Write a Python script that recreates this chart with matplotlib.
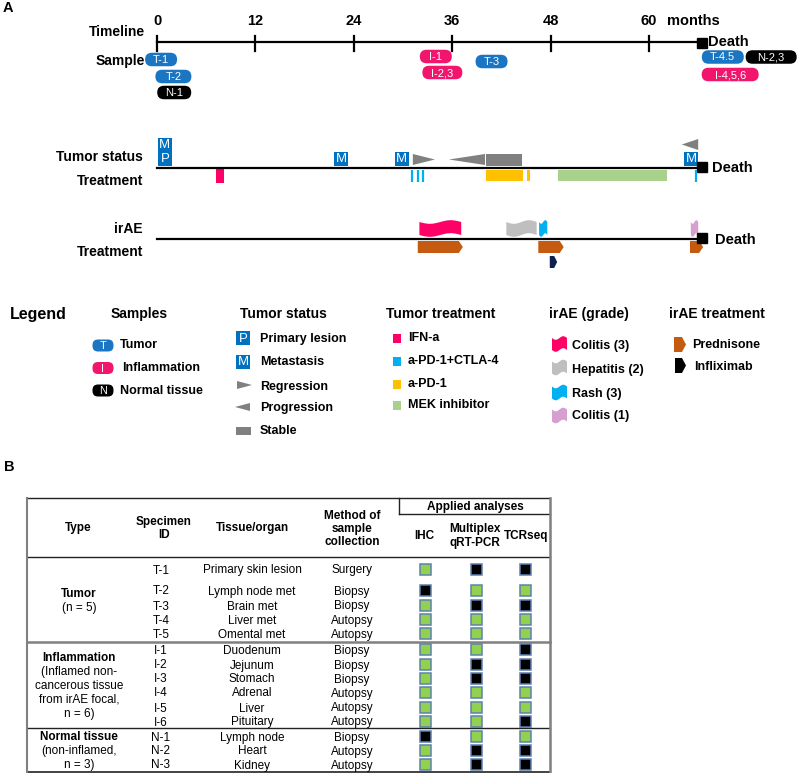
import numpy as np
import matplotlib.pyplot as plt
from matplotlib.patches import FancyBboxPatch, Polygon, Rectangle

plt.rcParams['font.family'] = ['Liberation Sans', 'DejaVu Sans']

# ---------------- data ----------------
tick_months = [0, 12, 24, 36, 48, 60]
death_month = 66.45

sample_labels = ["T-1", "T-2", "N-1", "I-1", "I-2,3", "T-3", "T-4.5", "N-2,3", "I-4,5,6"]
sample_kinds = ["T", "T", "N", "I", "I", "T", "T", "N", "I"]
sample_months = [0.5, 2.0, 2.1, 34.0, 34.8, 40.8, 69.0, 74.9, 69.9]

status_letters = ["P", "M", "M", "M", "M"]
status_months = [0.1, 0.1, 21.6, 29.0, 64.3]
status_level = [0, 1, 0, 0, 0]
regression = [(31.2, 33.9)]
progression = [(35.6, 40.0), (64.0, 66.0)]
progression_level = [0, 1]
stable = [(40.1, 44.5)]

ifn_a = [(7.2, 8.2)]
pd1_ctla4 = [31.1, 31.8, 32.4, 65.7]
pd1 = [(40.1, 44.6), (45.15, 45.5)]
mek = [(48.9, 62.2)]

irae_names = ["Colitis (3)", "Hepatitis (2)", "Rash (3)", "Colitis (1)"]
irae_spans = [(32.0, 37.1), (42.6, 46.3), (46.6, 47.6), (65.1, 66.0)]
prednisone = [(31.8, 37.3), (46.5, 49.6), (65.0, 66.6)]
infliximab = [(47.9, 48.8)]

spec_ids = ["T-1", "T-2", "T-3", "T-4", "T-5", "I-1", "I-2", "I-3", "I-4", "I-5", "I-6",
            "N-1", "N-2", "N-3"]
tissues = ["Primary skin lesion", "Lymph node met", "Brain met", "Liver met", "Omental met",
           "Duodenum", "Jejunum", "Stomach", "Adrenal", "Liver", "Pituitary",
           "Lymph node", "Heart", "Kidney"]
methods = ["Surgery", "Biopsy", "Biopsy", "Autopsy", "Autopsy",
           "Biopsy", "Biopsy", "Biopsy", "Autopsy", "Autopsy", "Autopsy",
           "Biopsy", "Autopsy", "Autopsy"]
ihc = [1, 0, 1, 1, 1, 1, 1, 1, 1, 1, 1, 0, 1, 1]
qpcr = [0, 1, 0, 1, 1, 1, 0, 0, 1, 1, 1, 1, 0, 0]
tcrseq = [0, 1, 0, 1, 1, 0, 0, 0, 1, 1, 0, 1, 0, 0]

# ---------------- style ----------------
BLUE = "#1A75C2"
PINK = "#F2156D"
GRAY = "#808080"
sample_colors = {"T": BLUE, "I": PINK, "N": "black"}
irae_colors = ["#FF0066", "#BFBFBF", "#00B0F0", "#D59FD0"]
ORANGE = "#C55A11"
NAVY = "#0C2350"

PX0, PXM = 157, 8.2  # pixel of month 0, pixels per month

fig = plt.figure(figsize=(7.98, 7.73), dpi=100)
ax = fig.add_axes([0, 0, 1, 1])
ax.set_xlim(0, 798)
ax.set_ylim(773, 0)
ax.axis('off')

tl = fig.add_axes([0, 0, 1, 1])
tl.set_xlim(-PX0 / PXM, (798 - PX0) / PXM)
tl.set_ylim(773, 0)
tl.axis('off')


def flag(a, x0, x1, ytop, ybot, color, amp=1.8):
    t = np.linspace(0, 1, 40)
    xs = x0 + (x1 - x0) * t
    wave = amp * np.sin(2 * np.pi * t)
    top = np.column_stack([xs, ytop + wave])
    bot = np.column_stack([xs[::-1], ybot + wave[::-1]])
    a.add_patch(Polygon(np.vstack([top, bot]), closed=True, fc=color, ec='none'))


def arrow_box(a, x0, x1, ytop, ybot, color, tip):
    ym = (ytop + ybot) / 2
    pts = [(x0, ytop), (x1 - tip, ytop), (x1, ym), (x1 - tip, ybot), (x0, ybot)]
    a.add_patch(Polygon(pts, closed=True, fc=color, ec='none'))


def tri(a, x0, x1, ytop, ybot, right=True, color=GRAY):
    ym = (ytop + ybot) / 2
    if right:
        pts = [(x0, ytop), (x1, ym), (x0, ybot)]
    else:
        pts = [(x1, ytop), (x0, ym), (x1, ybot)]
    a.add_patch(Polygon(pts, closed=True, fc=color, ec='none'))


def letter_box(a, x, yc, letter, w, h=14):
    a.add_patch(Rectangle((x, yc - h / 2), w, h, fc="#0070C0", ec='none'))
    a.text(x + w / 2, yc + 0.5, letter, color='white', fontsize=9.5,
           ha='center', va='center')


# ---------------- panel labels ----------------
ax.text(3, 8, "A", fontsize=10.5, fontweight='bold', va='center')
ax.text(4, 467, "B", fontsize=10.5, fontweight='bold', va='center')

# ---------------- timeline ----------------
lab = dict(fontsize=10, fontweight='bold', va='center', ha='right')
ax.text(145, 32, "Timeline", **lab)
ax.text(145, 61, "Sample", **lab)
ax.text(143, 157, "Tumor status", **lab)
ax.text(143, 181, "Treatment", **lab)
ax.text(143, 229, "irAE", **lab)
ax.text(143, 252, "Treatment", **lab)

tl.plot([0, death_month], [42, 42], color='black', lw=1.6)
for m in tick_months:
    tl.plot([m, m], [36, 51], color='black', lw=1.6)
    tl.text(m, 21, str(m), fontsize=10.5, fontweight='bold', ha='center', va='center')
ax.text(667, 21, "months", fontsize=10.5, fontweight='bold', va='center')
tl.plot(death_month, 42.5, marker='s', ms=6.5, color='black')
tl.text(death_month + 0.75, 42, "Death", fontsize=10.5, fontweight='bold', va='center')

sample_y = [59.5, 76.5, 92.5, 56.5, 72.5, 61.5, 57, 57, 74.5]
sample_w = [32, 36, 34, 32, 40, 32, 42, 51, 57]
for lbl, kind, m, yc, w in zip(sample_labels, sample_kinds, sample_months, sample_y, sample_w):
    wm = w / PXM
    h = 13.5
    tl.add_patch(FancyBboxPatch((m - wm / 2, yc - h / 2), wm, h,
                                boxstyle=f"round,pad=0,rounding_size={h / 2 / PXM}",
                                mutation_aspect=PXM, fc=sample_colors[kind], ec='none'))
    tl.text(m, yc + 0.5, lbl, color='white', fontsize=8, ha='center', va='center')

# ---------------- tumor status / treatment ----------------
tl.plot([0, death_month], [167.5, 167.5], color='black', lw=1.6)
tl.plot(death_month, 167, marker='s', ms=7, color='black')
tl.text(death_month + 1.2, 168, "Death", fontsize=10.5, fontweight='bold', va='center')

box_w = 14 / PXM
for letter, m, lvl in zip(status_letters, status_months, status_level):
    letter_box(tl, m, 159 - 14 * lvl, letter, box_w)

for m0, m1 in regression:
    tri(tl, m0, m1, 154, 165, right=True)
for (m0, m1), lvl in zip(progression, progression_level):
    if lvl == 0:
        tri(tl, m0, m1, 154, 165, right=False)
    else:
        tri(tl, m0, m1, 139, 150, right=False)
for m0, m1 in stable:
    tl.add_patch(Rectangle((m0, 154), m1 - m0, 12, fc=GRAY, ec='none'))

for m0, m1 in ifn_a:
    tl.add_patch(Rectangle((m0, 169), m1 - m0, 14, fc="#FF0066", ec='none'))
for m in pd1_ctla4:
    tl.plot([m, m], [169.5, 182], color="#00B0F0", lw=1.6, solid_capstyle='butt')
for m0, m1 in pd1:
    tl.add_patch(Rectangle((m0, 170), m1 - m0, 11, fc="#FFC000", ec='none'))
for m0, m1 in mek:
    tl.add_patch(Rectangle((m0, 170), m1 - m0, 11, fc="#A9D18E", ec='none'))

# ---------------- irAE / treatment ----------------
tl.plot([0, death_month], [238.5, 238.5], color='black', lw=1.6)
tl.plot(death_month, 238, marker='s', ms=7, color='black')
tl.text(death_month + 1.6, 240, "Death", fontsize=10.5, fontweight='bold', va='center')

for (m0, m1), col in zip(irae_spans, irae_colors):
    flag(tl, m0, m1, 222, 235, col, amp=1.8)
for m0, m1 in prednisone:
    arrow_box(tl, m0, m1, 241, 253, ORANGE, 4 / PXM)
for m0, m1 in infliximab:
    arrow_box(tl, m0, m1, 256, 268, NAVY, 3 / PXM)

# ---------------- legend ----------------
ax.text(10, 315, "Legend", fontsize=11.5, fontweight='bold', va='center')
for txt, xc in [("Samples", 139.5), ("Tumor status", 283), ("Tumor treatment", 441),
                ("irAE (grade)", 589), ("irAE treatment", 717)]:
    ax.text(xc, 314, txt, fontsize=10, fontweight='bold', ha='center', va='center')

item = dict(fontsize=9, fontweight='bold', va='center')
for kind, name, yc, tx in [("T", "Tumor", 345.5, 120), ("I", "Inflammation", 368, 122),
                           ("N", "Normal tissue", 390.5, 120)]:
    ax.add_patch(FancyBboxPatch((92.5, yc - 6), 21, 12, boxstyle="round,pad=0,rounding_size=5.5",
                                fc=sample_colors[kind], ec='none'))
    ax.text(103, yc + 0.5, kind, color='white', fontsize=7.8, ha='center', va='center')
    ax.text(tx, yc, name, **item)

letter_box(ax, 236, 338, "P", 14)
ax.text(260, 339, "Primary lesion", **item)
letter_box(ax, 236, 361.5, "M", 14)
ax.text(260, 362, "Metastasis", **item)
tri(ax, 237, 252, 381, 389, right=True)
ax.text(260, 387, "Regression", **item)
tri(ax, 235, 250, 403, 411, right=False)
ax.text(260, 408, "Progression", **item)
ax.add_patch(Rectangle((236, 427), 15, 8, fc=GRAY, ec='none'))
ax.text(260, 431, "Stable", **item)

for col, name, yc in [("#FF0066", "IFN-a", 338), ("#00B0F0", "a-PD-1+CTLA-4", 361.5),
                      ("#FFC000", "a-PD-1", 384), ("#A9D18E", "MEK inhibitor", 405.5)]:
    ax.add_patch(Rectangle((393, yc - 4.5), 8, 9, fc=col, ec='none'))
    ax.text(408, yc, name, **item)

for col, name, yc, ty in zip(irae_colors, irae_names, [344, 367.5, 392.5, 415.5],
                             [346, 370, 394, 416]):
    flag(ax, 552, 567, yc - 6, yc + 6, col, amp=1.8)
    ax.text(572, ty, name, **item)

arrow_box(ax, 674, 686, 337, 352, ORANGE, 4)
ax.text(692, 345, "Prednisone", **item)
arrow_box(ax, 675, 686, 358, 373, "black", 4)
ax.text(694, 367, "Infliximab", **item)

# ---------------- table ----------------
T_L, T_R, T_TOP, T_BOT = 27, 550, 498, 772
ax.plot([T_L, T_R], [T_TOP, T_TOP], color='#222222', lw=1.0)
ax.plot([399, T_R], [514, 514], color='#222222', lw=1.0)
ax.plot([399, 399], [T_TOP, 514], color='#222222', lw=1.0)
ax.plot([T_L, T_R], [557, 557], color='#222222', lw=1.0)
ax.plot([T_L, T_R], [642, 642], color='#808080', lw=1.8)
ax.plot([T_L, T_R], [728, 728], color='#222222', lw=1.0)
ax.plot([T_L, T_R], [T_BOT, T_BOT], color='#222222', lw=1.2)
ax.plot([T_L, T_L], [T_TOP, T_BOT], color='#808080', lw=1.5)
ax.plot([T_R, T_R], [T_TOP, T_BOT], color='#808080', lw=1.8)

hd = dict(fontsize=8.5, fontweight='bold', ha='center', va='center', linespacing=1.15)
ax.text(78, 528, "Type", **hd)
ax.text(164, 528.5, "Specimen\nID", **hd)
ax.text(252, 528, "Tissue/organ", **hd)
ax.text(352, 529, "Method of\nsample\ncollection", **hd)
ax.text(475, 507, "Applied analyses", **hd)
ax.text(424, 536, "IHC", **hd)
ax.text(475, 536, "Multiplex\nqRT-PCR", **hd)
ax.text(526, 536, "TCRseq", **hd)

row_y = [569, 590, 605, 619.5, 633.5, 649.5, 664, 678, 692, 707, 721, 736.5, 750, 764]
body = dict(fontsize=8.5, ha='center', va='center')
for yc, sid, tis, meth in zip(row_y, spec_ids, tissues, methods):
    ax.text(161, yc + 1.5, sid, **body)
    ax.text(252, yc + 1.5, tis, **body)
    ax.text(352, yc + 1.5, meth, **body)

for col_x, vals in [(425, ihc), (476, qpcr), (525, tcrseq)]:
    for yc, v in zip(row_y, vals):
        ax.add_patch(Rectangle((col_x - 5.5, yc - 5.5), 11, 11, fc="#92D050" if v else "black",
                               ec="#5C82B0", lw=1.1))

groups = [
    (["Tumor", "(n = 5)"], 593),
    (["Inflammation", "(Inflamed non-", "cancerous tissue", "from irAE focal,", "n = 6)"], 657),
    (["Normal tissue", "(non-inflamed,", "n = 3)"], 736),
]
for lines, y0 in groups:
    for i, line in enumerate(lines):
        ax.text(79, y0 + 1 + 14 * i, line, fontsize=8.5, ha='center', va='center',
                fontweight='bold' if i == 0 else 'normal')

fig.savefig("out.png", dpi=100)
